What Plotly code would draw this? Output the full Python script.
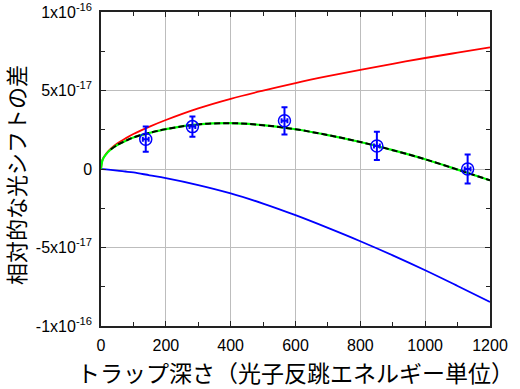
import plotly.graph_objects as go

# Curves (y in units of 1e-17)
x_curve = [0, 5, 15, 30, 50, 75, 100, 150, 200, 300, 400, 500, 600, 700, 800, 900, 1000, 1100, 1200]
red = [0, 0.6, 0.95, 1.3, 1.63, 1.94, 2.23, 2.7, 3.12, 3.86, 4.47, 4.99, 5.47, 5.91, 6.32, 6.70, 7.07, 7.41, 7.75]
blue = [0, -0.01, -0.03, -0.06, -0.1, -0.16, -0.22, -0.4, -0.58, -1.02, -1.55, -2.2, -2.94, -3.75, -4.6, -5.5, -6.45, -7.45, -8.47]
green = [0, 0.59, 0.92, 1.24, 1.53, 1.78, 2.01, 2.3, 2.54, 2.84, 2.92, 2.79, 2.53, 2.16, 1.72, 1.2, 0.62, -0.04, -0.72]

# Measured points
x_pts = [138, 282, 566, 851, 1131]
y_pts = [1.90, 2.70, 3.07, 1.47, 0.0]
y_err = [0.80, 0.64, 0.87, 0.90, 0.93]
x_err = [9, 9, 9, 9, 9]

x_ticks = [0, 200, 400, 600, 800, 1000, 1200]
y_ticks = [-10, -5, 0, 5, 10]
y_ticktext = ["-1x10<sup>-16</sup>", "-5x10<sup>-17</sup>", "0", "5x10<sup>-17</sup>", "1x10<sup>-16</sup>"]

x_title = "トラップ深さ（光子反跳エネルギー単位）"
y_title = "相対的な光シフトの差"

fig = go.Figure()
fig.add_trace(go.Scatter(x=x_curve, y=red, mode="lines", line=dict(color="#ff0000", width=1.8, shape="spline"), showlegend=False))
fig.add_trace(go.Scatter(x=x_curve, y=blue, mode="lines", line=dict(color="#0000ff", width=1.8, shape="spline"), showlegend=False))
fig.add_trace(go.Scatter(x=x_curve, y=green, mode="lines", line=dict(color="#00ff00", width=2.2, shape="spline"), showlegend=False))
fig.add_trace(go.Scatter(x=x_curve[3:], y=green[3:], mode="lines", line=dict(color="#000000", width=2, dash="6px,3px", shape="spline"), showlegend=False))
fig.add_trace(go.Scatter(
    x=x_pts, y=y_pts, mode="markers",
    marker=dict(symbol="circle-open", size=12, color="#0000ff", line=dict(width=1.5, color="#0000ff")),
    error_y=dict(type="data", array=y_err, color="#0000ff", thickness=2, width=3),
    error_x=dict(type="data", array=x_err, color="#0000ff", thickness=2, width=2.5),
    showlegend=False))

axis_common = dict(showline=True, linecolor="#222222", linewidth=1.5, mirror="ticks",
                   ticks="inside", ticklen=5, tickwidth=1.2, tickcolor="#222222",
                   showgrid=True, gridcolor="#bdbdbd", gridwidth=1, zeroline=False,
                   automargin=False,
                   tickfont=dict(family="Liberation Sans, Arial", size=16, color="#000000"))

fig.update_xaxes(range=[0, 1200], tickvals=x_ticks, ticklabelstandoff=4,
                 minor=dict(dtick=100, ticks="inside", ticklen=4, tickcolor="#222222", showgrid=False),
                 **axis_common)
fig.update_yaxes(range=[-10, 10], tickvals=y_ticks, ticktext=y_ticktext, ticklabelstandoff=4,
                 minor=dict(dtick=2.5, ticks="inside", ticklen=4, tickcolor="#222222", showgrid=False),
                 **axis_common)

fig.add_annotation(text=y_title, xref="paper", yref="paper", x=0, y=0.5, xshift=-86, yshift=-6,
                   textangle=-90, showarrow=False, xanchor="center", yanchor="middle",
                   font=dict(family="Noto Sans CJK JP", size=22, color="#000000"))
fig.add_annotation(text=x_title, xref="paper", yref="paper", x=0.5, y=0, yshift=-46,
                   showarrow=False, xanchor="center", yanchor="middle",
                   font=dict(family="Noto Sans CJK JP", size=23, color="#000000"))

fig.update_layout(width=520, height=389, margin=dict(l=101, r=30, t=12, b=63, autoexpand=False),
                  plot_bgcolor="white", paper_bgcolor="white")
fig.write_html("out.html", config={"displayModeBar": False},
               post_script="document.body.style.margin='0';document.body.style.padding='0';")
